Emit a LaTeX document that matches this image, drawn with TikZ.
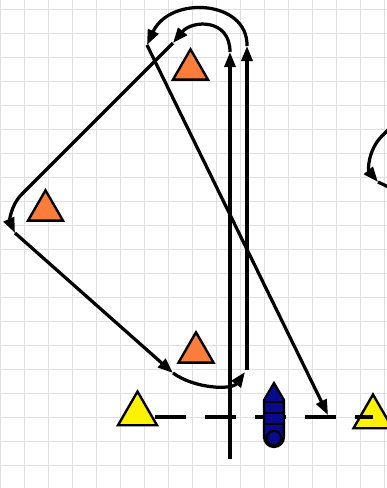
\documentclass[tikz,border=0pt]{standalone}
\usepackage{xcolor}
\usepackage{tikz}
\usetikzlibrary{shapes.geometric,arrows.meta}

\definecolor{playorange}{RGB}{250,125,60}
\definecolor{qbblue}{RGB}{10,10,140}

\begin{document}
\begin{tikzpicture}[
    x=0.025cm, y=-0.025cm,
    gridline/.style={draw=gray!25, line width=0.6pt},
    defender/.style={regular polygon, regular polygon sides=3, draw, line width=1.7pt, fill=playorange, inner sep=0pt, minimum size=1.01cm},
    cone/.style={regular polygon, regular polygon sides=3, draw, line width=1.7pt, fill=yellow, inner sep=0pt, minimum size=1.125cm},
    run/.style={draw, line width=2.3pt, -{Triangle[length=0.38cm,width=0.28cm]}},
    lineup/.style={draw, line width=2.3pt, dash pattern=on 0.775cm off 0.475cm}
]

\useasboundingbox (0,0) rectangle (387,488);
\clip (0,0) rectangle (387,488);

% Grid
\foreach \i in {0,...,16} \draw[gridline] (0.5+24*\i,0) -- (0.5+24*\i,488);
\foreach \j in {0,...,19} \draw[gridline] (0,9.3+24*\j) -- (387,9.3+24*\j);

% Defenders
\node[defender] (dtop) at (190.5,69.5) {};
\node[defender] (dleft) at (45.5,210.5) {};
\node[defender] (dbot) at (196,352.5) {};

% Cones on the line
\node[cone] (cleft) at (137.5,414) {};
\node[cone] (cright) at (373,417) {};

% Line of scrimmage
\coordinate (lstart) at (155,417);
\draw[lineup] (lstart) -- (cright.center);

% Route
\coordinate (r0) at (230,459);
\coordinate (r1) at (230,52);
\coordinate (r2) at (173,43);
\coordinate (r3) at (15,233);
\coordinate (r4) at (173,373);
\coordinate (r5) at (245,372);
\coordinate (r5b) at (247,370);
\coordinate (r6) at (247,46);
\coordinate (r7) at (147,45);
\coordinate (r8) at (328,415);

\draw[run] (r0) -- (r1);
\draw[run] (r1) .. controls (230,18) and (192,20) .. (r2);
\draw[run] (r2) -- (22,194) .. controls (10,206) and (10,222) .. (r3);
\draw[run] (r3) -- (r4);
\draw[run] (r4) .. controls (195,389) and (232,390) .. (r5);
\draw[run] (r5b) -- (r6);
\draw[run] (r6) .. controls (248,0) and (170,-5) .. (r7);
\draw[run] (r7) -- (r8);

% Second route (cut at the edge)
\coordinate (e0) at (405,113);
\coordinate (e1) at (378,182);
\coordinate (e2) at (405,195);
\draw[run] (e0) -- (381,137) .. controls (368,151) and (368,170) .. (e1);
\draw[line width=2.3pt] (e1) -- (e2);

% Ball carrier
\coordinate (qb) at (274,383);
\begin{scope}[shift={(qb)}]
  \draw[line width=1.6pt, fill=qbblue] (0,0) -- (10,17) -- (10,54) arc[start angle=0, end angle=-180, radius=0.25cm] -- (-10,17) -- cycle;
  \draw[line width=1.5pt] (-10,19) -- (10,19);
  \draw[line width=1.5pt] (-10,30) -- (10,30);
  \draw[line width=1.5pt] (-10,41) -- (10,41);
  \draw[line width=1.5pt, fill=qbblue] (0,55) circle[radius=0.18cm];
\end{scope}

\end{tikzpicture}
\end{document}
